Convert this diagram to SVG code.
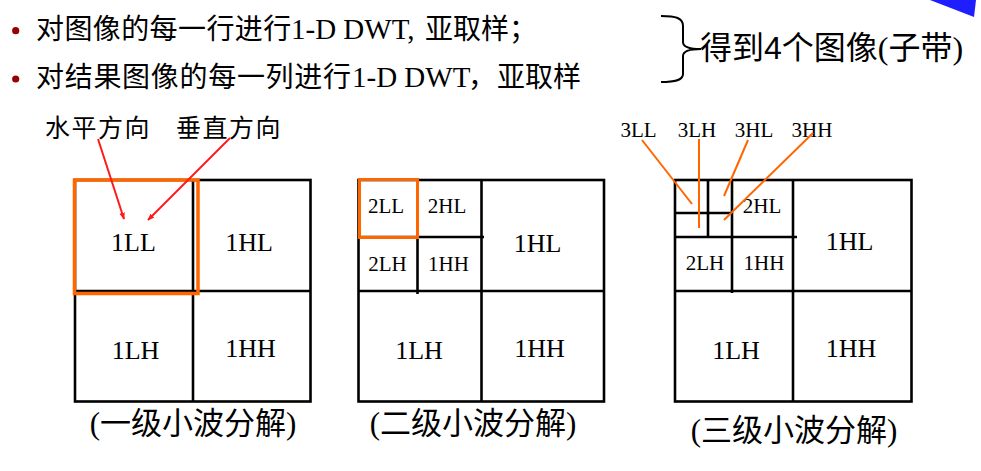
<svg xmlns="http://www.w3.org/2000/svg" width="981" height="471" viewBox="0 0 981 471">
  <defs>
    <style>
      .cjk { font-family: "Liberation Serif", "Noto Sans CJK SC", serif; fill: #000; }
      .sans { font-family: "Liberation Sans", "Noto Sans CJK SC", sans-serif; }
      .grid { fill: none; stroke: #000; stroke-width: 2.6; }
      .sel { fill: none; stroke: #FF6600; }
      .band { font-family: "Liberation Serif", serif; fill: #000; text-anchor: middle; }
      .big { font-size: 26px; }
      .small { font-size: 21px; }
      .cap { font-family: "Liberation Serif", "Noto Sans CJK SC", serif; font-size: 31px; text-anchor: middle; fill: #000; }
      .arrow { stroke: #FF1A1A; stroke-width: 2; fill: none; }
      .lead { stroke: #FF6600; stroke-width: 2; fill: none; }
    </style>
    <marker id="ah" viewBox="0 0 10 10" refX="9" refY="5" markerWidth="7" markerHeight="7" orient="auto" markerUnits="userSpaceOnUse">
      <path d="M0,1 L10,5 L0,9 z" fill="#FF1A1A"/>
    </marker>
  </defs>

  <rect width="981" height="471" fill="#fff"/>

  <!-- slide corner decoration -->
  <polygon points="930,0 976,0 974,17" fill="#1E1EFF"/>

  <!-- bullet list -->
  <g id="bullets">
    <circle cx="15.7" cy="30.7" r="3.6" fill="#990000"/>
    <circle cx="15.7" cy="79" r="3.6" fill="#990000"/>
    <text class="cjk" font-size="28" y="39">
      <tspan x="36" letter-spacing="0.4">对图像的每一行进行</tspan><tspan x="291" font-size="29">1-D DWT,</tspan><tspan x="425">亚取样</tspan><tspan x="509">；</tspan>
    </text>
    <text class="cjk" font-size="28" y="87">
      <tspan x="36" letter-spacing="0.7">对结果图像的每一列进行</tspan><tspan x="352" font-size="29">1-D DWT</tspan><tspan x="468">，</tspan><tspan x="497">亚取样</tspan>
    </text>
  </g>

  <!-- brace and result note -->
  <g id="note">
    <path d="M661,16 C676,16 683,18 683,26 L683,42 C683,47 690,49 701,49 C690,49 683,51 683,56 L683,74 C683,80 676,82 661,82" fill="none" stroke="#000" stroke-width="2"/>
    <text class="cjk" font-size="32" x="700" y="59">得到<tspan class="sans">4</tspan>个图像(子带)</text>
  </g>

  <!-- direction labels -->
  <g id="dir-labels">
    <text class="cjk" font-size="25" letter-spacing="1.5" x="45" y="137">水平方向</text>
    <text class="cjk" font-size="25" letter-spacing="1.5" x="176" y="137">垂直方向</text>
  </g>

  <!-- level 1 decomposition -->
  <g id="level1">
    <rect class="grid" x="75" y="180" width="235.5" height="221.5"/>
    <line class="grid" x1="193" y1="180" x2="193" y2="401.5"/>
    <line class="grid" x1="75" y1="291" x2="310.5" y2="291"/>
    <rect class="sel" stroke-width="3.5" x="74.5" y="180" width="123.5" height="113.5"/>
    <g id="l1-LL"><text class="band big" x="133.5" y="251">1LL</text></g>
    <g id="l1-HL"><text class="band big" x="249" y="251">1HL</text></g>
    <g id="l1-LH"><text class="band big" x="135.5" y="359">1LH</text></g>
    <g id="l1-HH"><text class="band big" x="250.5" y="357">1HH</text></g>
    <text class="cap" x="193" y="434">(一级小波分解)</text>
  </g>

  <!-- level 2 decomposition -->
  <g id="level2">
    <rect class="grid" x="358.5" y="180" width="245.5" height="221.5"/>
    <line class="grid" x1="481.5" y1="180" x2="481.5" y2="401.5"/>
    <line class="grid" x1="358.5" y1="291" x2="604" y2="291"/>
    <line class="grid" x1="417.5" y1="180" x2="417.5" y2="294"/>
    <line class="grid" x1="358.5" y1="237" x2="484" y2="237"/>
    <rect class="sel" stroke-width="3" x="359.5" y="179.5" width="58" height="58"/>
    <g id="l2-LL"><text class="band small" x="386" y="213">2LL</text></g>
    <g id="l2-HL"><text class="band small" x="447" y="213">2HL</text></g>
    <g id="l2-LH"><text class="band small" x="387.5" y="271">2LH</text></g>
    <g id="l2-HH"><text class="band small" x="448.5" y="271">1HH</text></g>
    <g id="l2-1HL"><text class="band big" x="537.5" y="252">1HL</text></g>
    <g id="l2-1LH"><text class="band big" x="419" y="359">1LH</text></g>
    <g id="l2-1HH"><text class="band big" x="539.5" y="357">1HH</text></g>
    <text class="cap" x="473" y="434">(二级小波分解)</text>
  </g>

  <!-- level 3 decomposition -->
  <g id="level3">
    <rect class="grid" x="675" y="180" width="236.5" height="221.5"/>
    <line class="grid" x1="793" y1="180" x2="793" y2="401.5"/>
    <line class="grid" x1="675" y1="291" x2="911.5" y2="291"/>
    <line class="grid" x1="732" y1="180" x2="732" y2="293"/>
    <line class="grid" x1="675" y1="237" x2="797" y2="237"/>
    <line class="grid" x1="708" y1="180" x2="708" y2="237"/>
    <line class="grid" x1="675" y1="213" x2="732" y2="213"/>
    <g id="l3-HL2"><text class="band small" x="762" y="213">2HL</text></g>
    <g id="l3-LH2"><text class="band small" x="705" y="270">2LH</text></g>
    <g id="l3-HH1s"><text class="band small" x="764" y="270">1HH</text></g>
    <g id="l3-1HL"><text class="band big" x="849.5" y="250">1HL</text></g>
    <g id="l3-1LH"><text class="band big" x="736" y="359">1LH</text></g>
    <g id="l3-1HH"><text class="band big" x="851" y="357">1HH</text></g>
    <g id="l3-LL"><text class="band small" x="638.5" y="137">3LL</text></g>
    <g id="l3-LH"><text class="band small" x="697" y="137">3LH</text></g>
    <g id="l3-HL"><text class="band small" x="754" y="137">3HL</text></g>
    <g id="l3-HH"><text class="band small" x="812" y="137">3HH</text></g>
    <text class="cap" x="794" y="441">(三级小波分解)</text>
  </g>

  <!-- connectors -->
  <g id="connectors">
    <line class="arrow" x1="98" y1="139" x2="124" y2="219" marker-end="url(#ah)"/>
    <line class="arrow" x1="230" y1="138" x2="148" y2="220" marker-end="url(#ah)"/>
    <line class="lead" x1="642" y1="140" x2="692" y2="204"/>
    <line class="lead" x1="699" y1="139" x2="699" y2="228"/>
    <line class="lead" x1="748" y1="140" x2="724" y2="196"/>
    <line class="lead" x1="813" y1="133" x2="724" y2="220"/>
  </g>
</svg>
